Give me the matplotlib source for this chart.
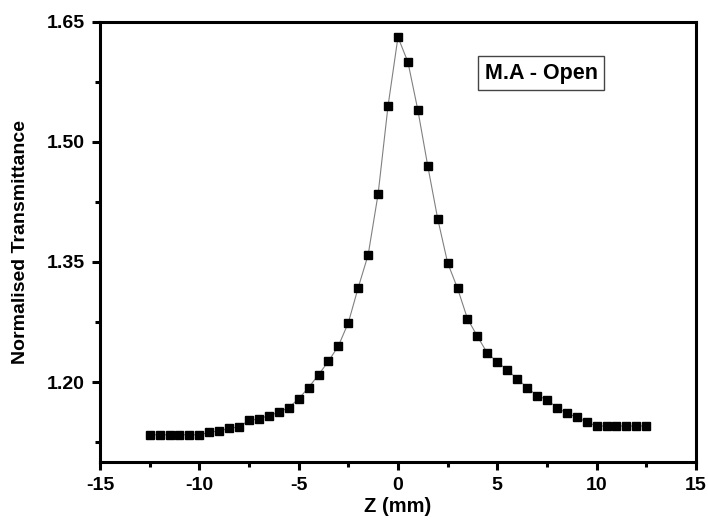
import numpy as np
import matplotlib.pyplot as plt
from matplotlib.ticker import MultipleLocator

plt.rcParams['font.family'] = ['Liberation Sans', 'DejaVu Sans']
plt.rcParams['font.weight'] = 'bold'
plt.rcParams['axes.unicode_minus'] = False

# z position (mm), -12.5 to 12.5 in 0.5 mm steps
z_mm = [-12.5, -12.0, -11.5, -11.0, -10.5, -10.0, -9.5, -9.0, -8.5, -8.0,
        -7.5, -7.0, -6.5, -6.0, -5.5, -5.0, -4.5, -4.0, -3.5, -3.0,
        -2.5, -2.0, -1.5, -1.0, -0.5, 0.0, 0.5, 1.0, 1.5, 2.0,
        2.5, 3.0, 3.5, 4.0, 4.5, 5.0, 5.5, 6.0, 6.5, 7.0,
        7.5, 8.0, 8.5, 9.0, 9.5, 10.0, 10.5, 11.0, 11.5, 12.0, 12.5]

transmittance = [1.134, 1.134, 1.134, 1.134, 1.134, 1.134, 1.137, 1.139, 1.142, 1.144,
                 1.152, 1.154, 1.158, 1.162, 1.168, 1.179, 1.193, 1.209, 1.226, 1.245,
                 1.274, 1.318, 1.359, 1.435, 1.545, 1.631, 1.600, 1.540, 1.470, 1.404,
                 1.349, 1.317, 1.279, 1.257, 1.236, 1.225, 1.215, 1.204, 1.193, 1.183,
                 1.178, 1.168, 1.161, 1.156, 1.150, 1.145, 1.145, 1.145, 1.145, 1.145, 1.145]

fig = plt.figure(figsize=(7.08, 5.23), dpi=100)
ax = fig.add_axes([0.1412, 0.1166, 0.8418, 0.8414])

ax.plot(z_mm, transmittance, color='grey', linewidth=0.8,
        marker='s', markersize=5.8, markerfacecolor='black',
        markeredgecolor='black', zorder=3)

ax.set_xlim(-15, 15)
ax.set_ylim(1.10, 1.65)
ax.xaxis.set_major_locator(MultipleLocator(5))
ax.xaxis.set_minor_locator(MultipleLocator(2.5))
ax.set_yticks([1.20, 1.35, 1.50, 1.65])
ax.set_yticklabels(['1.20', '1.35', '1.50', '1.65'])
ax.yaxis.set_minor_locator(MultipleLocator(0.075))

for sp in ax.spines.values():
    sp.set_linewidth(2.2)

ax.tick_params(which='major', direction='out', length=6, width=2.2,
               labelsize=14, pad=5, top=False, right=False)
ax.tick_params(which='minor', direction='out', length=3.5, width=2.2,
               top=False, right=False)
for lab in ax.get_xticklabels() + ax.get_yticklabels():
    lab.set_fontweight('bold')

ax.set_xlabel('Z (mm)', fontsize=14.5, fontweight='bold', labelpad=2)
ax.set_ylabel('Normalised Transmittance', fontsize=14, fontweight='bold', labelpad=13)

ax.text(0.74, 0.884, 'M.A - Open', transform=ax.transAxes, fontsize=15.5,
        fontweight='bold', ha='center', va='center',
        bbox=dict(boxstyle='square,pad=0.3', facecolor='white',
                  edgecolor='#444444', linewidth=1))

fig.savefig('out.png', dpi=100)
